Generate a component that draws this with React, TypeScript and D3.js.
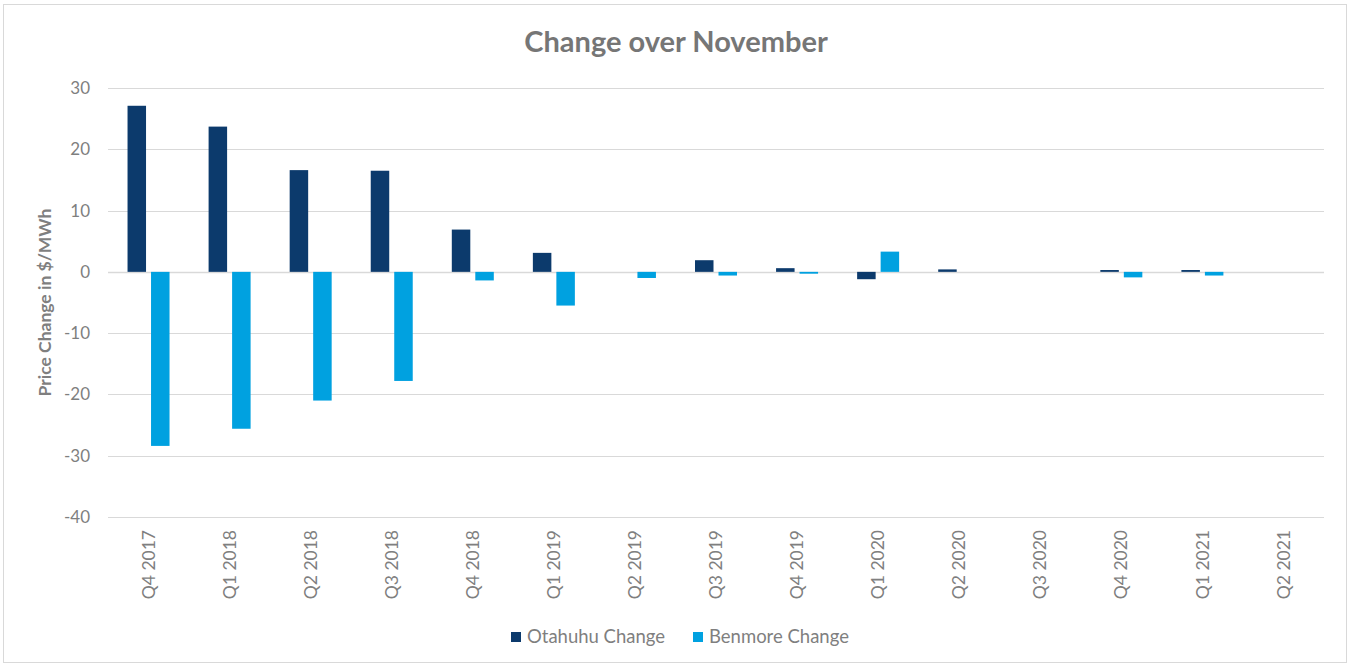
import { useEffect, useRef } from 'react'
import * as d3 from 'd3'

const QUARTERS = ['Q4 2017', 'Q1 2018', 'Q2 2018', 'Q3 2018', 'Q4 2018', 'Q1 2019', 'Q2 2019', 'Q3 2019',
  'Q4 2019', 'Q1 2020', 'Q2 2020', 'Q3 2020', 'Q4 2020', 'Q1 2021', 'Q2 2021']
const OTAHUHU = [27.1, 23.7, 16.6, 16.5, 6.9, 3.1, 0, 1.9, 0.6, -1.2, 0.4, 0, 0.3, 0.3, 0]
const BENMORE = [-28.4, -25.6, -21.0, -17.8, -1.4, -5.5, -1.0, -0.6, -0.3, 3.3, 0, 0, -0.9, -0.6, 0]
const SERIES = ['Otahuhu Change', 'Benmore Change']
const COLORS = ['#0c3a6c', '#00a1e0']
const Y_TICKS = [30, 20, 10, 0, -10, -20, -30, -40]

const W = 1350
const H = 666
const PLOT = { left: 108, right: 1324, top: 88, bottom: 517 }
const FONT = 'Lato, "Open Sans", sans-serif'
const TEXT = '#7f7f7f'

export default function App() {
  const svgRef = useRef<SVGSVGElement>(null)

  useEffect(() => {
    const svg = d3.select(svgRef.current)
    svg.selectAll('*').remove()

    // chart frame
    svg.append('rect')
      .attr('x', 3.5).attr('y', 4.5).attr('width', W - 7).attr('height', H - 8)
      .attr('fill', '#fff').attr('stroke', '#d9d9d9').attr('stroke-width', 1)

    const x = d3.scaleBand<string>().domain(QUARTERS).range([PLOT.left, PLOT.right]).padding(0)
    const y = d3.scaleLinear().domain([-40, 30]).range([PLOT.bottom, PLOT.top])

    const innerW = 42
    const xs = d3.scaleBand<string>().domain(SERIES).range([0, innerW]).paddingInner(5 / 23.5).paddingOuter(0)
    const off = (x.bandwidth() - innerW) / 2

    // gridlines
    const g = svg.append('g')
    g.selectAll('line.grid')
      .data(Y_TICKS)
      .join('line')
      .attr('x1', PLOT.left).attr('x2', PLOT.right)
      .attr('y1', d => Math.round(y(d)) + 0.5).attr('y2', d => Math.round(y(d)) + 0.5)
      .attr('stroke', '#d9d9d9').attr('stroke-width', d => d === 0 ? 1.5 : 1)

    // y tick labels
    g.selectAll('text.ytick')
      .data(Y_TICKS)
      .join('text')
      .attr('x', 90).attr('y', d => y(d))
      .attr('dy', '0.35em')
      .attr('text-anchor', 'end')
      .attr('font-family', FONT).attr('font-size', 17).attr('fill', TEXT)
      .text(d => d)

    // bars
    const data = [OTAHUHU, BENMORE]
    data.forEach((vals, si) => {
      g.append('g')
        .selectAll('rect')
        .data(vals.map((v, i) => ({ q: QUARTERS[i], v })))
        .join('rect')
        .attr('x', d => (x(d.q) as number) + off + (xs(SERIES[si]) as number))
        .attr('width', xs.bandwidth())
        .attr('y', d => y(Math.max(0, d.v)))
        .attr('height', d => Math.abs(y(d.v) - y(0)))
        .attr('fill', COLORS[si])
    })

    // x labels
    g.selectAll('text.xlab')
      .data(QUARTERS)
      .join('text')
      .attr('transform', d => `translate(${(x(d) as number) + x.bandwidth() / 2},530) rotate(-90)`)
      .attr('dy', '0.35em')
      .attr('text-anchor', 'end')
      .attr('font-family', FONT).attr('font-size', 17.5).attr('fill', TEXT)
      .text(d => d)

    // y axis title
    svg.append('text')
      .attr('transform', `translate(45,${(PLOT.top + PLOT.bottom) / 2}) rotate(-90)`)
      .attr('dy', '0.35em')
      .attr('text-anchor', 'middle')
      .attr('font-family', FONT).attr('font-size', 17.5).attr('font-weight', 'bold').attr('fill', TEXT)
      .text('Price Change in $/MWh')

    // title
    svg.append('text')
      .attr('x', 676).attr('y', 42)
      .attr('dy', '0.35em')
      .attr('text-anchor', 'middle')
      .attr('font-family', FONT).attr('font-size', 29).attr('font-weight', 'bold').attr('fill', '#767676')
      .text('Change over November')

    // legend
    const legX = [511, 693]
    SERIES.forEach((s, i) => {
      const lg = svg.append('g').attr('transform', `translate(${legX[i]},637)`)
      lg.append('rect').attr('x', 0).attr('y', -5).attr('width', 10).attr('height', 10).attr('fill', COLORS[i])
      lg.append('text')
        .attr('x', 16).attr('y', 0).attr('dy', '0.35em')
        .attr('font-family', FONT).attr('font-size', 18.5).attr('fill', TEXT)
        .text(s)
    })
  }, [])

  return (
    <div style={{ position: 'absolute', left: 0, top: 0 }}>
      <svg ref={svgRef} width={W} height={H} style={{ display: 'block' }} />
    </div>
  )
}
